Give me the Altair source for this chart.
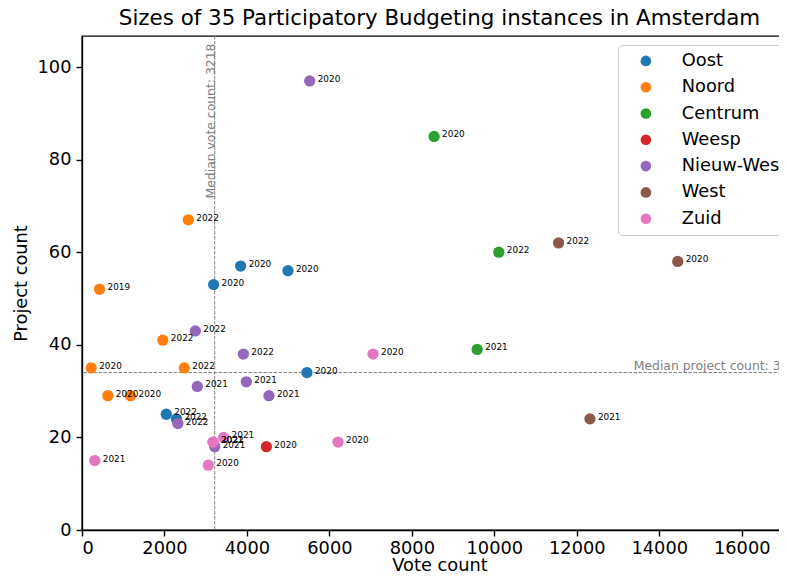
import altair as alt
import pandas as pd

# ---- data ----
districts = (["Oost"] * 6 + ["Noord"] * 7 + ["Centrum"] * 3 + ["Weesp"] * 1
             + ["Nieuw-West"] * 8 + ["West"] * 3 + ["Zuid"] * 7)
votes = [3847, 4995, 3192, 5456, 2044, 2290,
         2578, 425, 1961, 223, 2481, 626, 1177,
         8539, 10109, 9583,
         4471,
         5522, 2748, 3913, 2796, 3985, 4534, 2325, 3218,
         11558, 14447, 12318,
         7058, 6209, 311, 3063, 3175, 3180, 3434]
projects = [57, 56, 53, 34, 25, 24,
            67, 52, 41, 35, 35, 29, 29,
            85, 60, 39,
            18,
            97, 43, 38, 31, 32, 29, 23, 18,
            62, 58, 24,
            38, 19, 15, 14, 19, 19, 20]
years = ["2020", "2020", "2020", "2020", "2022", "2022",
         "2022", "2019", "2022", "2020", "2022", "2020", "2020",
         "2020", "2022", "2021",
         "2020",
         "2020", "2022", "2022", "2021", "2021", "2021", "2022", "2021",
         "2022", "2020", "2021",
         "2020", "2020", "2021", "2020", "2021", "2022", "2021"]

district_order = ["Oost", "Noord", "Centrum", "Weesp", "Nieuw-West", "West", "Zuid"]
district_colors = ["#1f77b4", "#ff7f0e", "#2ca02c", "#d62728", "#9467bd", "#8c564b", "#e377c2"]

median_votes = 3218
median_projects = 34

x_ticks = [0, 2000, 4000, 6000, 8000, 10000, 12000, 14000, 16000]
y_ticks = [0, 20, 40, 60, 80, 100]
x_max = 17340
y_max = 106.7

df = pd.DataFrame({"district": districts, "votes": votes,
                   "projects": projects, "year": years})
df["order"] = range(len(df))

FONT = "DejaVu Sans"

xscale = alt.Scale(domain=[0, x_max], nice=False, zero=False)
yscale = alt.Scale(domain=[0, y_max], nice=False, zero=False)

x_enc = alt.X("votes:Q", scale=xscale,
              axis=alt.Axis(values=x_ticks, title="Vote count", format="d",
                            labelPadding=3, titlePadding=0))
y_enc = alt.Y("projects:Q", scale=yscale,
              axis=alt.Axis(values=y_ticks, title="Project count", format="d",
                            labelPadding=5, titlePadding=7))

base = alt.Chart(df)

points = base.mark_circle(size=127, opacity=1).encode(
    x=x_enc,
    y=y_enc,
    color=alt.Color("district:N",
                    scale=alt.Scale(domain=district_order, range=district_colors),
                    sort=district_order,
                    title=None,
                    legend=alt.Legend(orient="none", legendX=536, legendY=9,
                                      padding=7, symbolOffset=12,
                                      symbolSize=113, symbolType="circle",
                                      symbolStrokeWidth=0, symbolOpacity=1,
                                      labelFontSize=17.8, labelFont=FONT,
                                      labelColor="black", labelOffset=27,
                                      rowPadding=7.3,
                                      strokeColor="#cccccc",
                                      fillColor="rgba(255,255,255,0.8)",
                                      cornerRadius=4)),
    order=alt.Order("order:Q"),
)

labels = base.mark_text(align="left", baseline="alphabetic", dx=8, dy=1,
                        fontSize=8.9, font=FONT, color="black").encode(
    x=alt.X("votes:Q", scale=xscale),
    y=alt.Y("projects:Q", scale=yscale),
    text="year:N",
)

med_v = pd.DataFrame({"v": [median_votes], "ytop": [105.4],
                      "label": [f"Median vote count: {median_votes}"]})
med_p = pd.DataFrame({"p": [median_projects], "xpos": [13380],
                      "label": [f"Median project count: {median_projects}"]})

vline = alt.Chart(med_v).mark_rule(color="gray", strokeWidth=1,
                                   strokeDash=[3.5, 1.5]).encode(
    x=alt.X("v:Q", scale=xscale))
hline = alt.Chart(med_p).mark_rule(color="gray", strokeWidth=1,
                                   strokeDash=[3.5, 1.5]).encode(
    y=alt.Y("p:Q", scale=yscale))

vtext = alt.Chart(med_v).mark_text(angle=270, align="right", baseline="alphabetic",
                                   dx=-1.5, fontSize=12.4, font=FONT,
                                   color="gray").encode(
    x=alt.X("v:Q", scale=xscale),
    y=alt.Y("ytop:Q", scale=yscale),
    text="label:N")
htext = alt.Chart(med_p).mark_text(align="left", baseline="alphabetic",
                                   dy=-2.5, fontSize=12.4, font=FONT,
                                   color="gray").encode(
    x=alt.X("xpos:Q", scale=xscale),
    y=alt.Y("p:Q", scale=yscale),
    text="label:N")

chart = alt.layer(vline, hline, vtext, htext, points, labels).properties(
    width=715,
    height=494,
    title=alt.TitleParams("Sizes of 35 Participatory Budgeting instances in Amsterdam",
                          fontSize=21.4, font=FONT, fontWeight="normal",
                          color="black", anchor="middle", offset=6),
    autosize=alt.AutoSizeParams(type="none"),
    padding={"left": 74, "top": 28, "right": -18, "bottom": 44},
).configure_view(
    stroke="black", strokeWidth=1.4
).configure_axis(
    grid=False,
    domainColor="black", domainWidth=1.4,
    tickColor="black", tickWidth=1.4, tickSize=6,
    labelFont=FONT, labelFontSize=17.8, labelColor="black",
    titleFont=FONT, titleFontSize=17.8, titleColor="black",
    titleFontWeight="normal",
)

chart.save("out.html", embed_options={"renderer": "svg", "actions": False})
